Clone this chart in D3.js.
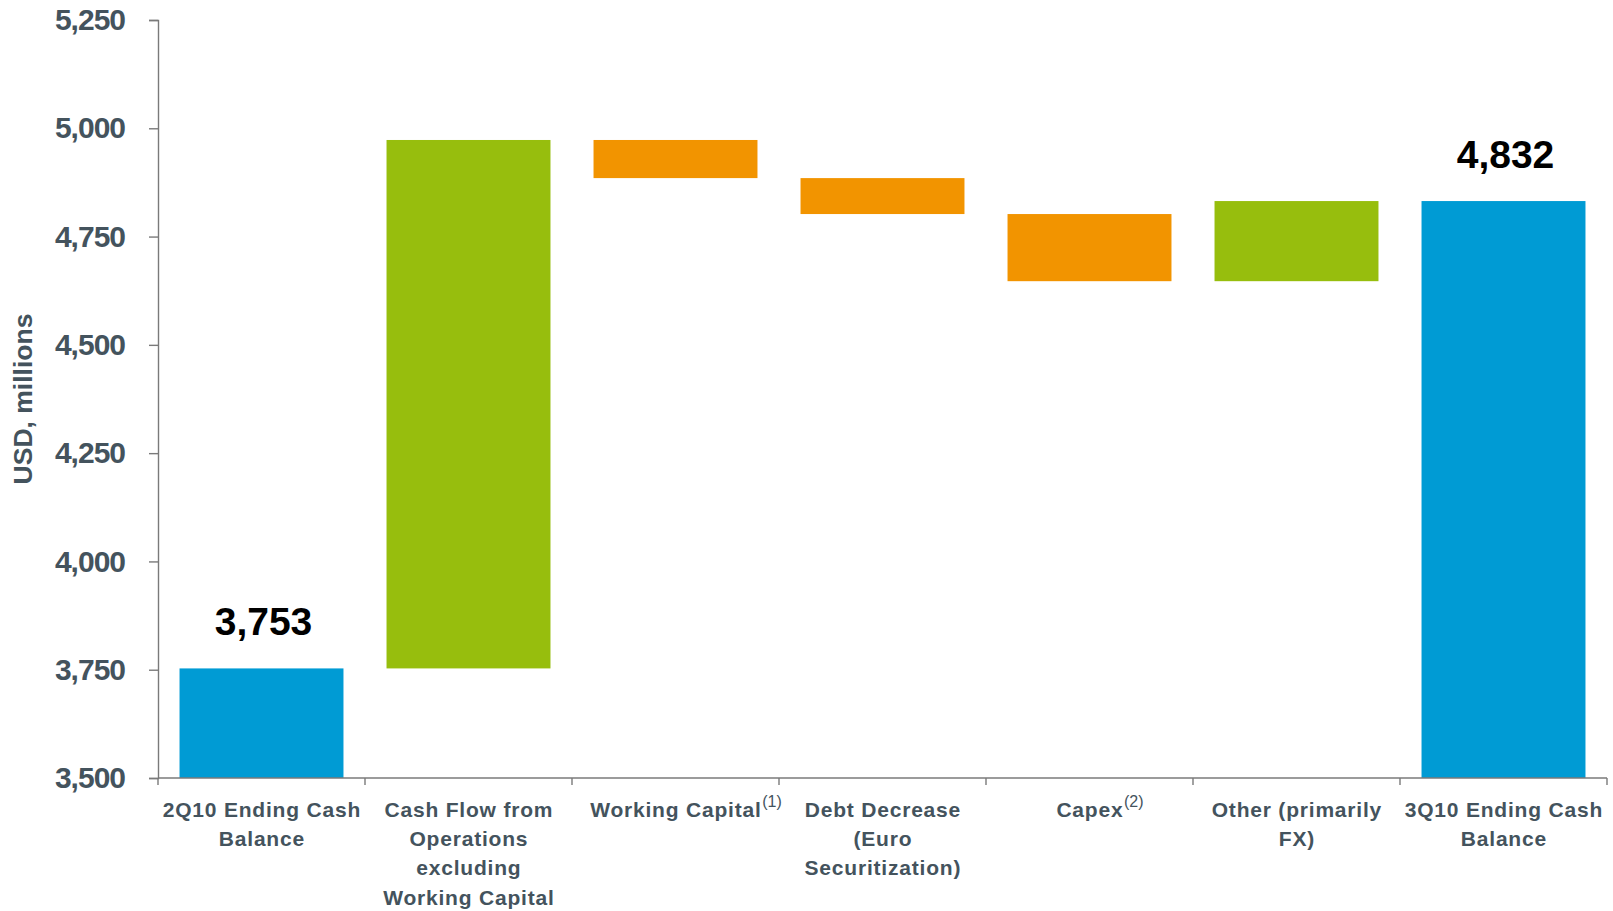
<!DOCTYPE html>
<html>
<head>
<meta charset="utf-8">
<script src="https://cdn.jsdelivr.net/npm/d3@7/dist/d3.min.js"></script>
<style>
  html, body { margin: 0; padding: 0; background: #fff; }
  svg { display: block; font-family: "Liberation Sans", Arial, sans-serif; }
</style>
</head>
<body>
<svg id="chart" width="1613" height="911"></svg>
<script>
// Cash walk, USD millions
const categories = ["2Q10", "CFO", "WC", "Debt", "Capex", "Other", "3Q10"];
const categoryLines = [
  ["2Q10 Ending Cash", "Balance"],
  ["Cash Flow from", "Operations", "excluding", "Working Capital"],
  ["Working Capital"],
  ["Debt Decrease", "(Euro", "Securitization)"],
  ["Capex"],
  ["Other (primarily", "FX)"],
  ["3Q10 Ending Cash", "Balance"]
];
const footnotes = [null, null, "(1)", null, "(2)", null, null];
const values = [3753, 1220, -88, -83, -155, 185, 4832];
const isTotal = [true, false, false, false, false, false, true];
const yTicks = [3500, 3750, 4000, 4250, 4500, 4750, 5000, 5250];
const yTitle = "USD, millions";

const colors = { total: "#009bd4", up: "#97be0d", down: "#f29400" };
const textColor = "#44535d";
const axisColor = "#7a7a7a";

// running totals for the waterfall
let running = 0;
const bars = values.map((v, i) => {
  let lo, hi, kind;
  if (isTotal[i]) { lo = 3500; hi = v; running = v; kind = "total"; }
  else { const s = running; running = s + v; lo = Math.min(s, running); hi = Math.max(s, running); kind = v >= 0 ? "up" : "down"; }
  return { key: categories[i], lo, hi, kind, value: v, total: isTotal[i] };
});

const svg = d3.select("#chart");
const plotLeft = 158, plotRight = 1607, plotTop = 20, plotBottom = 778;

const x = d3.scaleBand().domain(categories).range([plotLeft, plotRight]).padding(0);
const y = d3.scaleLinear().domain([3500, 5250]).range([plotBottom, plotTop]);
const barW = x.bandwidth() * 0.792;

// bars
svg.append("g").selectAll("rect").data(bars).join("rect")
  .attr("x", d => x(d.key) + (x.bandwidth() - barW) / 2)
  .attr("width", barW)
  .attr("y", d => y(d.hi))
  .attr("height", d => y(d.lo) - y(d.hi))
  .attr("fill", d => colors[d.kind]);

// value labels on the totals
svg.append("g").selectAll("text").data(bars.filter(d => d.total)).join("text")
  .attr("x", d => x(d.key) + x.bandwidth() / 2 + 2)
  .attr("y", d => y(d.hi) - 33)
  .attr("text-anchor", "middle")
  .attr("font-size", 39)
  .attr("font-weight", "bold")
  .attr("fill", "#000")
  .text(d => d3.format(",")(d.value));

// y axis
const yAxis = svg.append("g")
  .attr("transform", `translate(${plotLeft},0)`)
  .call(d3.axisLeft(y).tickValues(yTicks).tickFormat(d3.format(",")).tickSize(9).tickPadding(24));
yAxis.select(".domain").attr("stroke", axisColor).attr("stroke-width", 1.4);
yAxis.selectAll(".tick line").attr("stroke", axisColor).attr("stroke-width", 1.4);
yAxis.selectAll(".tick text")
  .attr("font-size", 30)
  .attr("font-weight", "bold")
  .attr("letter-spacing", "-1px")
  .attr("fill", textColor)
  .attr("font-family", "Liberation Sans, Arial, sans-serif");

// x axis: boundary ticks between categories
const xAxisG = svg.append("g");
xAxisG.append("line")
  .attr("x1", plotLeft).attr("x2", plotRight).attr("y1", plotBottom).attr("y2", plotBottom)
  .attr("stroke", axisColor).attr("stroke-width", 1.4);
const bounds = categories.map(c => x(c)).concat([x.range()[1]]);
xAxisG.selectAll("line.tk").data(bounds).join("line")
  .attr("class", "tk")
  .attr("x1", d => d).attr("x2", d => d)
  .attr("y1", plotBottom).attr("y2", plotBottom + 7)
  .attr("stroke", axisColor).attr("stroke-width", 1.4);

// category labels
const labelG = svg.append("g");
const ls = 0.8;
categories.forEach((c, i) => {
  const cx = x(c) + x.bandwidth() / 2;
  const t = labelG.append("text")
    .attr("x", cx).attr("y", 817)
    .attr("text-anchor", "middle")
    .attr("font-size", 21)
    .attr("font-weight", "bold")
    .attr("letter-spacing", ls + "px")
    .attr("fill", textColor);
  categoryLines[i].forEach((ln, j) => {
    t.append("tspan").attr("x", cx + ls / 2).attr("y", 817 + j * 29.2).text(ln);
  });
  if (footnotes[i]) {
    const w = t.node().getComputedTextLength();
    labelG.append("text")
      .attr("x", cx + w / 2 + 1)
      .attr("y", 807)
      .attr("font-size", 16)
      .attr("fill", textColor)
      .text(footnotes[i]);
  }
});

// y axis title
svg.append("text")
  .attr("transform", `translate(32,${(plotTop + plotBottom) / 2}) rotate(-90)`)
  .attr("text-anchor", "middle")
  .attr("font-size", 26.5)
  .attr("font-weight", "bold")
  .attr("fill", textColor)
  .text(yTitle);
</script>
</body>
</html>
